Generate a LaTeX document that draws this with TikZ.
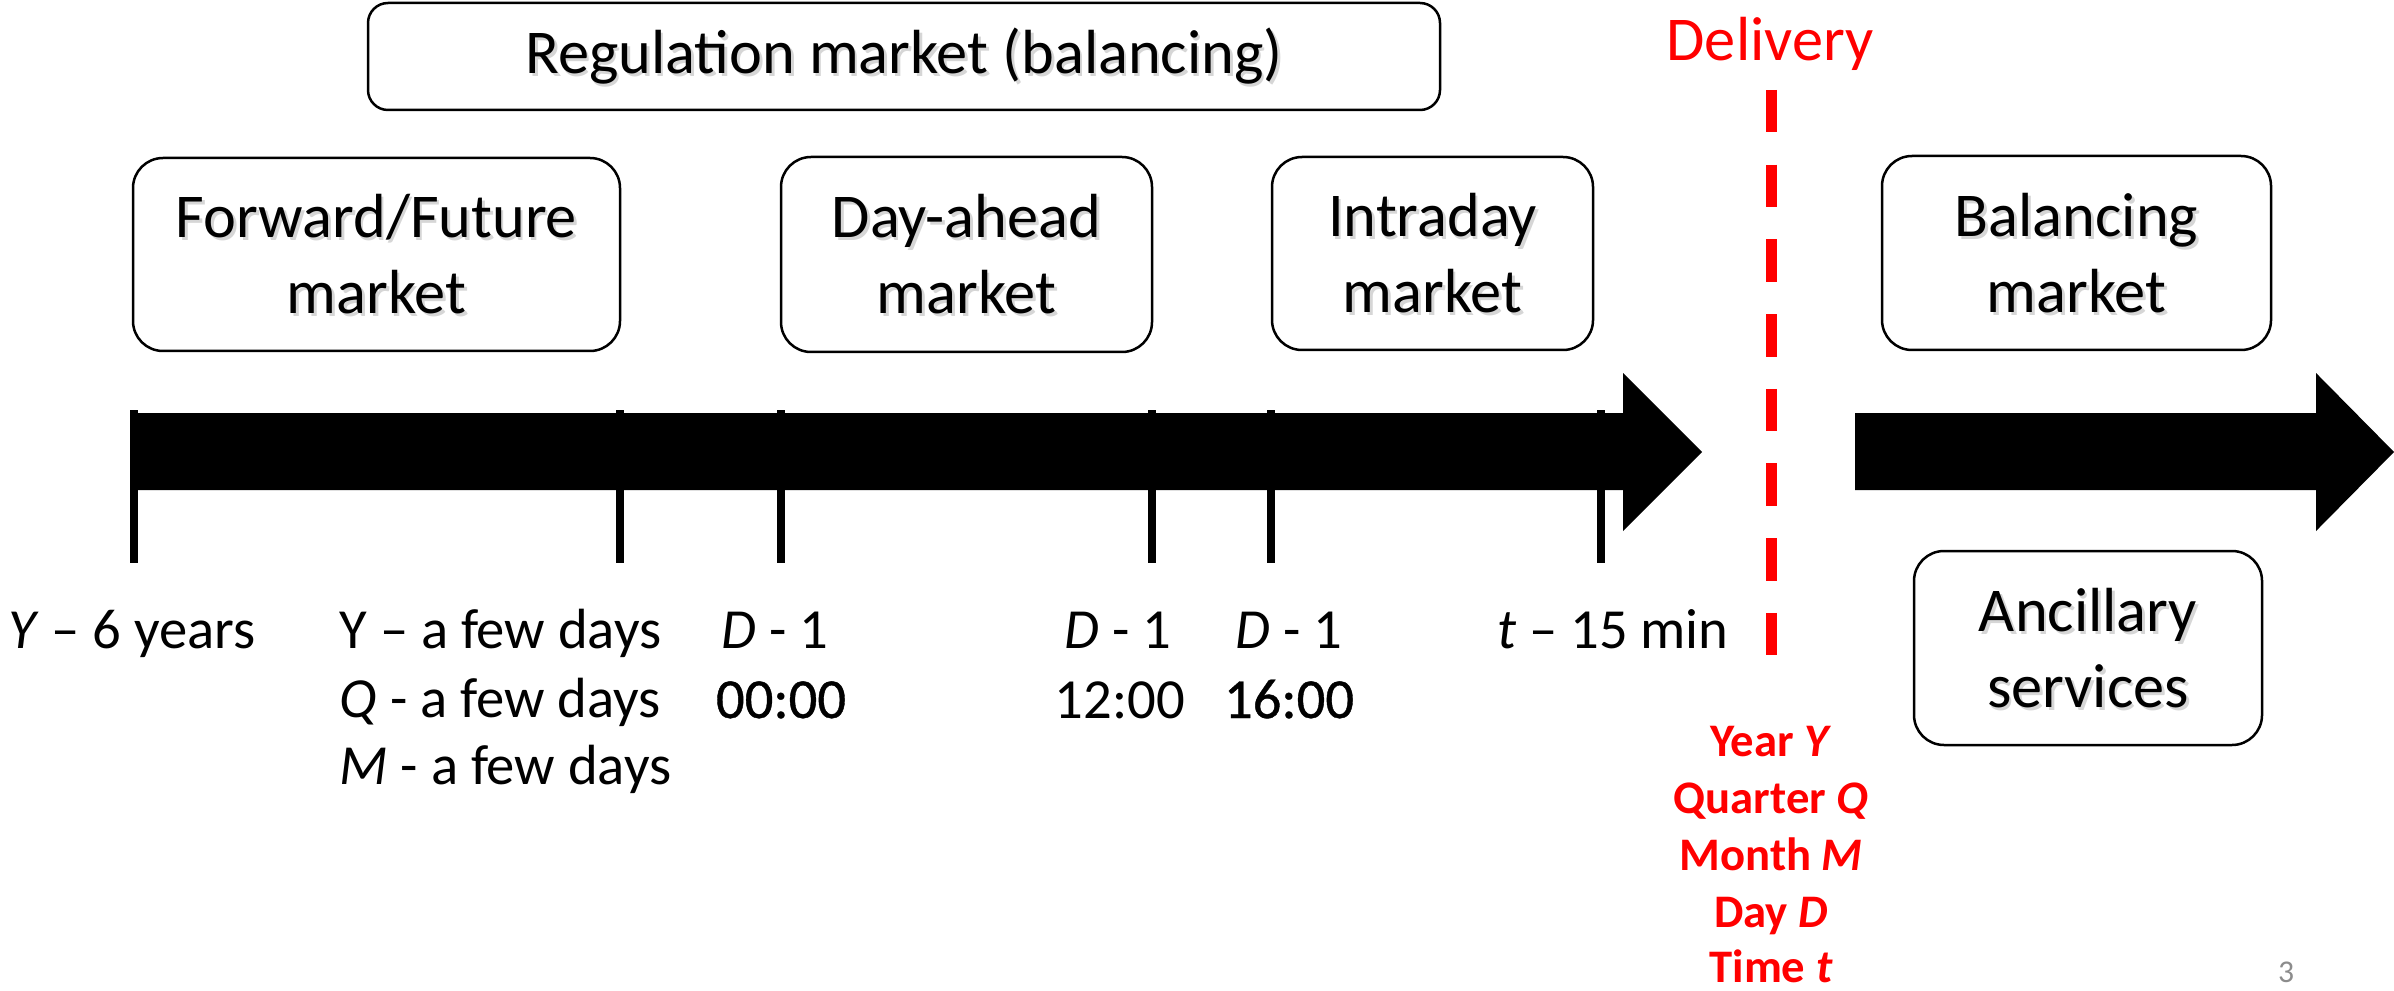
\documentclass[tikz,border=0pt]{standalone}
\usepackage{fontspec}
\setmainfont{Carlito}
\begin{document}
\begin{tikzpicture}[x=0.3pt,y=-0.3pt,
  mkt/.style={draw=black, line width=0.75pt, rounded corners=9pt, align=center,
    inner sep=0pt, font=\fontsize{18.7pt}{22.8pt}\selectfont},
  mktshadow/.style={mkt, draw=none, text=black!16, xshift=0.8pt, yshift=-0.8pt},
  lbl/.style={anchor=base, inner sep=0pt, font=\fontsize{17pt}{20pt}\selectfont},
  lblb/.style={lbl, font=\fontsize{17pt}{20pt}\selectfont\addfontfeature{FakeBold=0.7}},
  lblw/.style={lbl, anchor=base west},
  tick/.style={line width=2.3pt},
  dlv/.style={anchor=base, inner sep=0pt, text=red,
    font=\fontsize{14pt}{17pt}\selectfont\bfseries},
  timeline/.style={fill=black},
]
\useasboundingbox (0,0) rectangle (2394,991);

% soft text shadows behind the market labels
\node[mktshadow, minimum width=321.6pt, minimum height=32.1pt] (regs) at (904,56.5) {Regulation market (balancing)};
\node[mktshadow, minimum width=146.1pt, minimum height=57.9pt] (fwds) at (376.5,254.5) {Forward/Future\\market};
\node[mktshadow, minimum width=111.3pt, minimum height=58.5pt] (dams) at (966.5,254.5) {Day-ahead\\market};
\node[mktshadow, minimum width=96.3pt, minimum height=57.9pt] (idms) at (1432.5,253.5) {Intraday\\market};
\node[mktshadow, minimum width=116.7pt, minimum height=58.2pt] (bals) at (2076.5,253) {Balancing\\market};
\node[mktshadow, minimum width=104.4pt, minimum height=58.2pt] (ancs) at (2088,648) {Ancillary\\services};

% market boxes
\node[mkt, minimum width=321.6pt, minimum height=32.1pt, rounded corners=6pt] (reg) at (904,56.5) {Regulation market (balancing)};
\node[mkt, minimum width=146.1pt, minimum height=57.9pt] (fwd) at (376.5,254.5) {Forward/Future\\market};
\node[mkt, minimum width=111.3pt, minimum height=58.5pt] (dam) at (966.5,254.5) {Day-ahead\\market};
\node[mkt, minimum width=96.3pt, minimum height=57.9pt] (idm) at (1432.5,253.5) {Intraday\\market};
\node[mkt, minimum width=116.7pt, minimum height=58.2pt] (bal) at (2076.5,253) {Balancing\\market};
\node[mkt, minimum width=104.4pt, minimum height=58.2pt] (anc) at (2088,648) {Ancillary\\services};

% time arrows, before and after delivery
\fill[timeline] (130,413) -- (1623,413) -- (1623,373) -- (1702,452) -- (1623,531) -- (1623,490) -- (130,490) -- cycle;
\fill[timeline] (1855,413) -- (2316,413) -- (2316,373) -- (2394,452) -- (2316,531) -- (2316,490) -- (1855,490) -- cycle;

% gate closure ticks
\foreach \x in {134,620,781,1152,1271,1601}
  \draw[tick] (\x,410) -- (\x,563);

% delivery marker
\node[anchor=base, inner sep=0pt, text=red, font=\fontsize{18.7pt}{22pt}\selectfont] (dlvtitle) at (1770,61) {Delivery};
\coordinate (dtop) at (1771,90);
\coordinate (dbot) at (1771,656);
\draw[red, line width=3.3pt, dash pattern=on 12.75pt off 9.66pt] (dtop) -- (dbot);

% tick labels
\node[lbl] (l1) at (132,648) {\textit{Y} – 6 years};
\node[lblw] (l2a) at (339,648) {Y – a few days};
\node[lblw] (l2b) at (339,717) {\textit{Q} - a few days};
\node[lblw] (l2c) at (339,784) {\textit{M} - a few days};
\node[lbl] (l3a) at (775,648) {\textit{D} - 1};
\node[lblb] (l3b) at (781,718) {00:00};
\node[lbl] (l4a) at (1118,648) {\textit{D} - 1};
\node[lbl] (l4b) at (1120,718) {12:00};
\node[lbl] (l5a) at (1289,648) {\textit{D} - 1};
\node[lblb] (l5b) at (1289,718) {16:00};
\node[lbl] (l6) at (1613,648) {\textit{t} – 15 min};

% delivery period legend
\node[dlv] (ry) at (1771,756) {Year \textit{Y}};
\node[dlv] (rq) at (1771,813) {Quarter \textit{Q}};
\node[dlv] (rm) at (1771,870) {Month \textit{M}};
\node[dlv] (rd) at (1771,927) {Day \textit{D}};
\node[dlv] (rt) at (1771,982) {Time \textit{t}};

% page number
\node[anchor=base, inner sep=0pt, text=black!45, font=\fontsize{9.5pt}{11pt}\selectfont] (pg) at (2286,982) {3};
\end{tikzpicture}
\end{document}
